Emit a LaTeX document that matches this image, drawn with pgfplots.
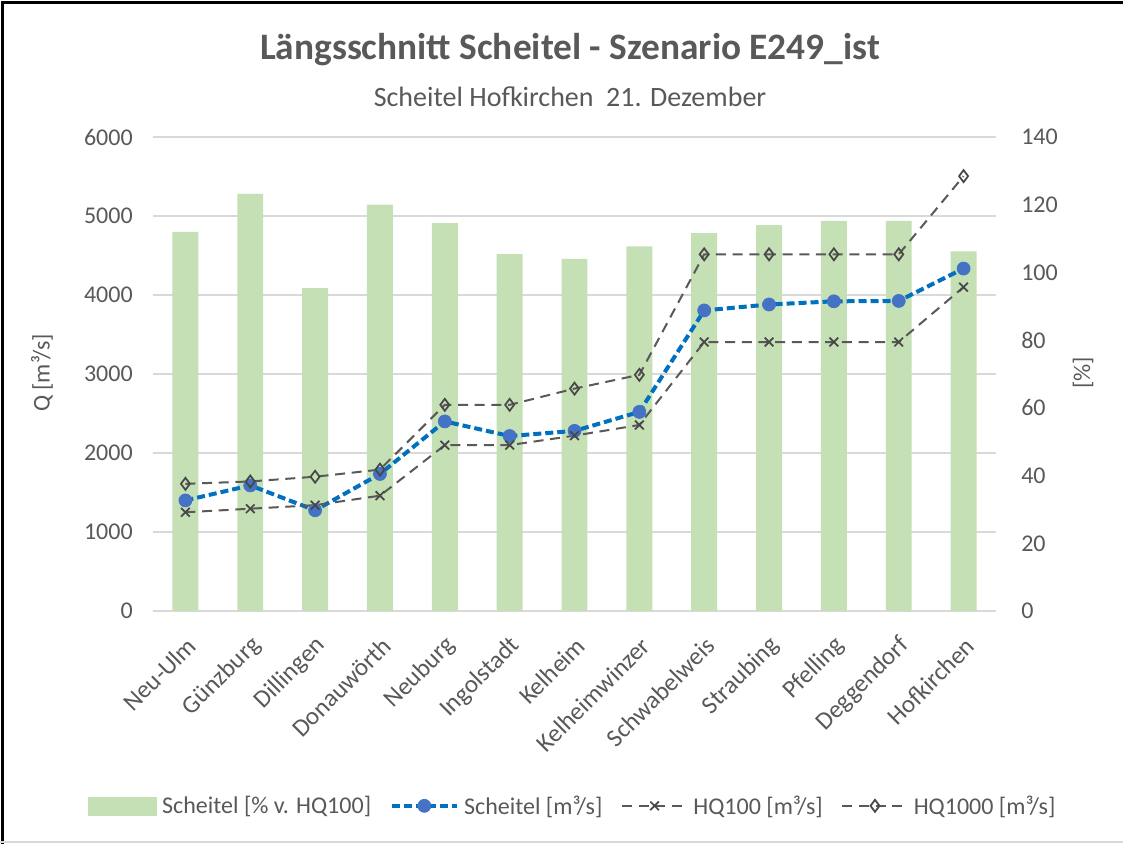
\documentclass[border=0pt]{standalone}
\usepackage{fontspec}
\setmainfont{Carlito}
\usepackage{pgfplots}
\pgfplotsset{compat=1.18}

\definecolor{barcol}{HTML}{C5E0B4}
\definecolor{bluel}{HTML}{0070C0}
\definecolor{bluem}{HTML}{4472C4}
\definecolor{grayl}{HTML}{595959}
\definecolor{txt}{HTML}{595959}
\definecolor{gridcol}{HTML}{D9D9D9}

\newcommand{\ticks}{\fontsize{18pt}{21pt}\selectfont}

\pgfplotsset{
  base/.style={
    at={(114.75pt,-458.25pt)}, anchor=south west,
    scale only axis, width=632.25pt, height=355.5pt,
    xmin=-0.5, xmax=12.5, clip=false,
    tick style={draw=none},
    axis line style={draw=none},
    ticklabel style={font=\ticks, text=txt},
    /pgf/number format/assume math mode=true,
    /pgf/number format/1000 sep={},
  }
}

\begin{document}
\begin{tikzpicture}
\path[use as bounding box] (0pt,0pt) rectangle (842.25pt,-633pt);
\fill[white] (0pt,0pt) rectangle (842.25pt,-633pt);

% grid, left axis and category names
\begin{axis}[base,
  ymin=0, ymax=6000, ytick={0,1000,...,6000},
  xtick={0,...,12},
  xticklabels={Neu-Ulm,Günzburg,Dillingen,Donauwörth,Neuburg,Ingolstadt,Kelheim,Kelheimwinzer,Schwabelweis,Straubing,Pfelling,Deggendorf,Hofkirchen},
  axis x line*=bottom, axis y line*=left,
  ymajorgrids, major grid style={draw=gridcol, line width=1.3pt},
  yticklabel style={anchor=east, inner sep=0pt, xshift=-15pt},
  xticklabel style={xshift=5pt, yshift=-23pt, rotate=45, anchor=east, inner sep=0pt,
    font=\fontsize{18.75pt}{22pt}\selectfont},
]
\end{axis}

% bars, right axis
\begin{axis}[base,
  ymin=0, ymax=140, ytick={0,20,...,140},
  axis x line=none, axis y line*=right,
  yticklabel style={anchor=west, inner sep=0pt, xshift=18.75pt},
  ybar, bar width=0.4,
]
\addplot[fill=barcol, draw=none] coordinates {
  (0,112.0) (1,123.2) (2,95.4) (3,120.0) (4,114.6) (5,105.4) (6,104.0)
  (7,107.7) (8,111.6) (9,114.0) (10,115.2) (11,115.2) (12,106.2)
};
\end{axis}

% discharge lines
\begin{axis}[base,
  ymin=0, ymax=6000, xtick=\empty, ytick=\empty,
  legend image code/.code={%
    \draw[mark repeat=2,mark phase=2,#1] plot coordinates {(0pt,0pt)(24.4pt,0pt)(48.75pt,0pt)};},
  legend style={at={(0.5,-0.411)}, anchor=center, draw=none, fill=none,
    legend columns=4, font=\ticks, text=txt,
    nodes={inner xsep=4pt},
    /tikz/every even column/.append style={column sep=10pt}},
]
\addlegendimage{legend image code/.code={\fill[barcol] (0pt,-6.75pt) rectangle (51pt,6.75pt);}}
\addlegendentry{Scheitel [\% v. HQ100]}
\addplot[bluel, line width=3pt, dash pattern=on 6pt off 3pt,
  mark=*, mark size=4.9pt, mark options={solid, fill=bluem, draw=bluem, line width=0.5pt}]
  coordinates {
  (0,1400) (1,1590) (2,1275) (3,1735) (4,2400) (5,2215) (6,2280)
  (7,2520) (8,3805) (9,3880) (10,3920) (11,3925) (12,4335)
};
\addlegendentry{Scheitel [m³/s]\hspace{6pt}}
\addplot[grayl, line width=1.5pt, dash pattern=on 7.5pt off 5pt,
  mark=x, mark size=4.6pt, mark options={solid, draw=grayl!80!black, line width=1.3pt}]
  coordinates {
  (0,1250) (1,1295) (2,1340) (3,1460) (4,2100) (5,2100) (6,2220)
  (7,2355) (8,3405) (9,3405) (10,3405) (11,3405) (12,4100)
};
\addlegendentry{HQ100 [m³/s]}
\addplot[grayl, line width=1.5pt, dash pattern=on 7.5pt off 5pt,
  mark=diamond, mark size=4.5pt, mark options={solid, draw=grayl!80!black, line width=1.3pt}]
  coordinates {
  (0,1610) (1,1640) (2,1700) (3,1790) (4,2610) (5,2610) (6,2815)
  (7,2990) (8,4515) (9,4515) (10,4515) (11,4515) (12,5505)
};
\addlegendentry{HQ1000 [m³/s]}
\end{axis}

% titles and axis titles
\node[text=txt, font=\fontsize{28pt}{32pt}\selectfont\bfseries] at (427.5pt,-37.5pt) {Längsschnitt Scheitel - Szenario E249\_ist};
\node[text=txt, font=\fontsize{21pt}{25pt}\selectfont] at (427.5pt,-72.75pt) {Scheitel Hofkirchen\ \ 21. Dezember};
\node[text=txt, font=\ticks, rotate=90] at (31.5pt,-279.75pt) {Q [m³/s]};
\node[text=txt, font=\ticks, rotate=90] at (812.25pt,-279.75pt) {[\%]};

% frame
\draw[black, line width=2.2pt] (1.8pt,-633pt) -- (1.8pt,-1.8pt) -- (842.25pt,-1.8pt);
\draw[gridcol, line width=1pt] (0pt,-631.5pt) -- (842.25pt,-631.5pt);
\end{tikzpicture}
\end{document}
